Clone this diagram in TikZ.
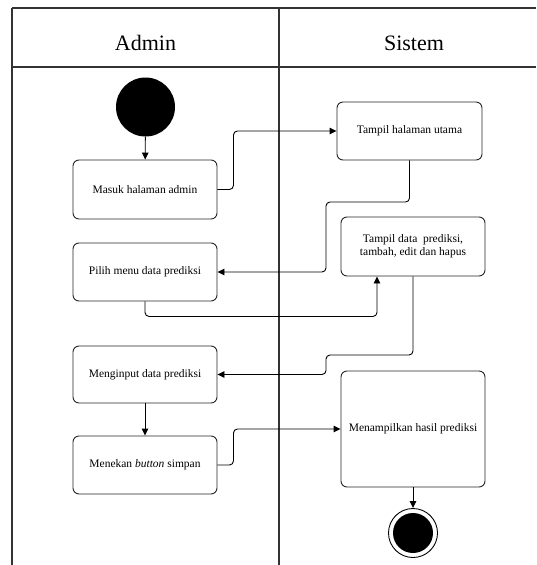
\documentclass[tikz,border=0pt]{standalone}
\usepackage{fontspec}
\setmainfont{Liberation Serif}
\usetikzlibrary{arrows.meta,calc}
\begin{document}
\begin{tikzpicture}[x=1pt,y=-1pt,
  frame/.style={line width=1.2pt,draw=black!80},
  act/.style={draw=black!85,line width=0.9pt,rounded corners=6pt,minimum width=144pt,minimum height=58pt,inner sep=2pt,align=center,font=\fontsize{11.5}{13}\selectfont},
  flow/.style={draw=black,line width=0.9pt,rounded corners=4pt,-{Triangle[length=7pt,width=6.5pt]}},
  lane/.style={font=\fontsize{22}{26}\selectfont,anchor=base}]
\useasboundingbox (0,0) rectangle (536,565);
% swimlane frame
\draw[frame] (12,8) -- (536,8);
\draw[frame] (12,67) -- (536,67);
\draw[frame] (12,8) -- (12,565);
\draw[frame] (279,8) -- (279,565);
\node[lane] (ladmin) at (145.5,50) {Admin};
\node[lane] (lsistem) at (414,50) {Sistem};
% start / end
\node[circle,fill=black,minimum size=59pt,inner sep=0] (start) at (145.5,107) {};
\node[circle,draw=black,line width=0.9pt,minimum size=49pt,inner sep=0] (end) at (413,533) {};
\node[circle,fill=black,minimum size=40pt,inner sep=0] (endin) at (413,533) {};
% activities
\node[act,minimum height=59pt] (masuk) at (145,189.5) {Masuk halaman admin};
\node[act,minimum width=145pt] (utama) at (409.5,131) {Tampil halaman utama};
\node[act] (pilih) at (145,272) {Pilih menu data prediksi};
\node[act,minimum height=59pt] (tdata) at (413,246.5) {Tampil data\ \ prediksi,\\tambah, edit dan hapus};
\node[act,minimum height=57pt] (input) at (145,374.5) {Menginput data prediksi};
\node[act] (tekan) at (145,465) {Menekan \textit{button} simpan};
\node[act,minimum height=116pt] (hasil) at (413,429) {Menampilkan hasil prediksi};
% connectors
\draw[flow] (start) -- (masuk);
\draw[flow] (masuk.east) -- ++(16,0) |- (utama.west);
\draw[flow] (utama.south) |- (326,202) |- (pilih.east);
\draw[flow] (pilih.south) -- ++(0,15) -| ($(tdata.south)+(-36,0)$);
\draw[flow] (tdata.south) |- (326,355) |- (input.east);
\draw[flow] (input) -- (tekan);
\draw[flow] (tekan.east) -- ++(16,0) |- (hasil.west);
\draw[flow] (hasil) -- (end);
\end{tikzpicture}
\end{document}
